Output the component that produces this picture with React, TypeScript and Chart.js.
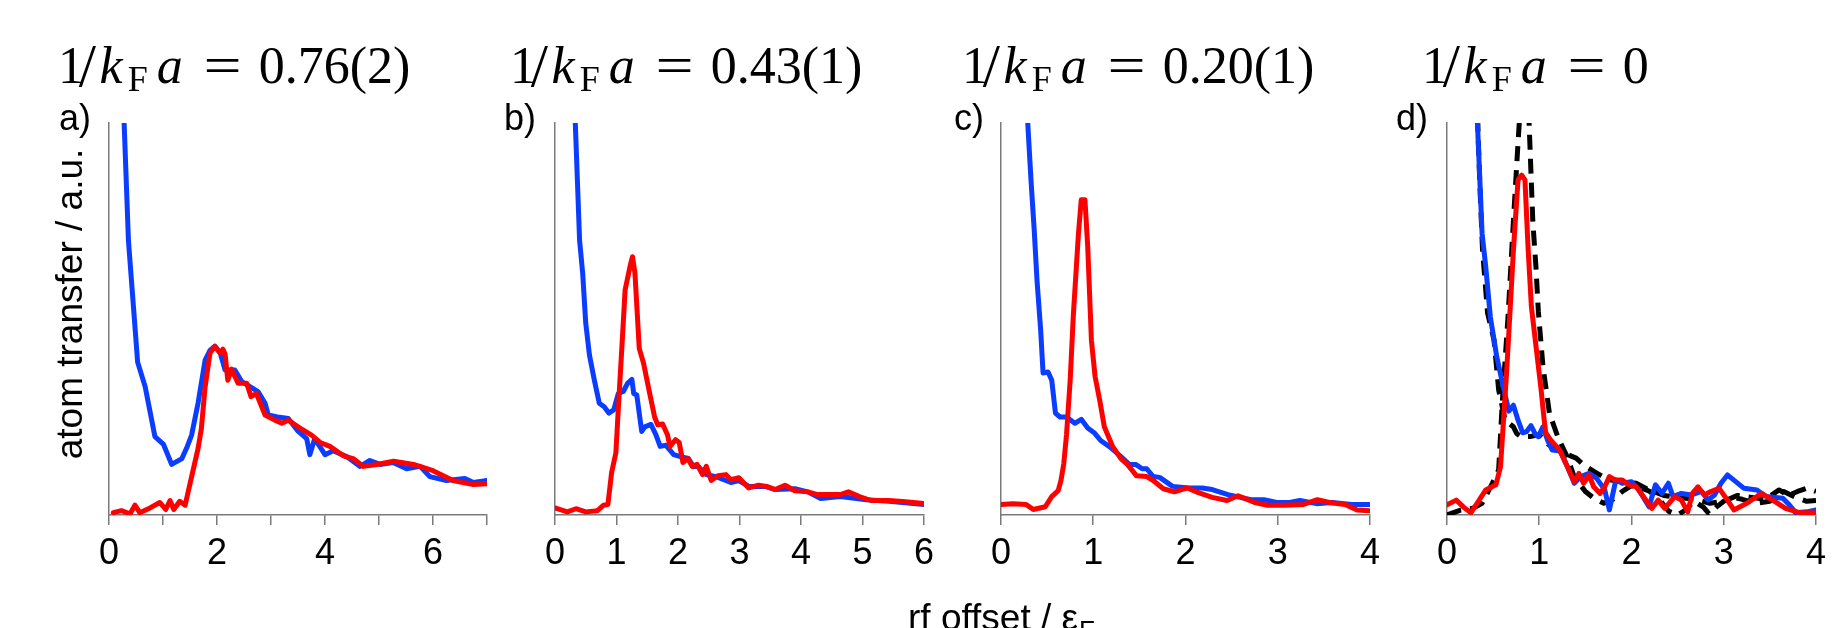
import React, { useEffect, useRef } from 'react';
import { Chart, registerables } from 'chart.js';

Chart.register(...registerables);

type Pt = [number, number];

// ---------------- data (x = rf offset / eF, y = atom transfer, arbitrary units) ----------------
const blueA: Pt[] = [[0.22,1.25],[0.28,1.0],[0.36,0.70],[0.47,0.50],[0.53,0.39],[0.67,0.327],[0.85,0.2],[1.01,0.18],[1.16,0.129],[1.35,0.144],[1.45,0.175],[1.53,0.204],[1.65,0.286],[1.78,0.395],[1.87,0.42],[1.96,0.431],[2.06,0.413],[2.15,0.37],[2.33,0.37],[2.46,0.34],[2.76,0.315],[2.89,0.285],[2.95,0.255],[3.12,0.25],[3.32,0.246],[3.5,0.214],[3.66,0.195],[3.72,0.154],[3.81,0.195],[4.0,0.154],[4.15,0.164],[4.4,0.149],[4.65,0.124],[4.83,0.139],[5.02,0.129],[5.26,0.134],[5.51,0.118],[5.76,0.124],[5.94,0.098],[6.25,0.088],[6.59,0.093],[6.75,0.083],[7.0,0.088]];
const redA: Pt[] = [[0.08,0.006],[0.23,0.011],[0.39,0.003],[0.48,0.025],[0.57,0.006],[0.76,0.018],[0.94,0.032],[1.05,0.014],[1.13,0.037],[1.2,0.014],[1.31,0.035],[1.41,0.025],[1.53,0.098],[1.65,0.17],[1.71,0.22],[1.78,0.327],[1.87,0.413],[1.96,0.43],[2.06,0.413],[2.11,0.423],[2.15,0.41],[2.2,0.344],[2.27,0.372],[2.39,0.336],[2.55,0.336],[2.63,0.302],[2.73,0.31],[2.89,0.255],[3.07,0.242],[3.2,0.234],[3.32,0.242],[3.5,0.225],[3.75,0.204],[3.91,0.185],[4.09,0.175],[4.34,0.151],[4.52,0.144],[4.71,0.124],[4.96,0.129],[5.27,0.137],[5.64,0.129],[6.0,0.113],[6.37,0.088],[6.75,0.078],[7.0,0.08]];

const blueB: Pt[] = [[0.28,1.2],[0.33,1.0],[0.40,0.70],[0.45,0.617],[0.50,0.489],[0.56,0.408],[0.64,0.344],[0.72,0.285],[0.80,0.276],[0.875,0.26],[0.955,0.268],[1.03,0.31],[1.11,0.315],[1.18,0.336],[1.25,0.346],[1.28,0.31],[1.33,0.306],[1.41,0.213],[1.46,0.225],[1.56,0.231],[1.64,0.205],[1.71,0.175],[1.80,0.178],[1.93,0.154],[2.04,0.149],[2.17,0.144],[2.25,0.124],[2.33,0.124],[2.46,0.103],[2.62,0.098],[2.86,0.083],[2.99,0.088],[3.15,0.073],[3.42,0.073],[3.58,0.065],[3.9,0.067],[4.11,0.059],[4.32,0.042],[4.64,0.047],[5.06,0.039],[5.43,0.035],[6.0,0.027]];
const redB: Pt[] = [[0,0.018],[0.2,0.008],[0.34,0.016],[0.5,0.008],[0.69,0.011],[0.79,0.025],[0.86,0.027],[0.92,0.108],[0.99,0.159],[1.04,0.30],[1.09,0.435],[1.14,0.574],[1.22,0.634],[1.26,0.659],[1.30,0.617],[1.37,0.425],[1.44,0.387],[1.54,0.31],[1.62,0.25],[1.67,0.23],[1.75,0.232],[1.83,0.204],[1.87,0.175],[1.96,0.192],[2.02,0.185],[2.08,0.134],[2.16,0.144],[2.23,0.124],[2.31,0.129],[2.40,0.103],[2.46,0.124],[2.54,0.088],[2.65,0.10],[2.78,0.103],[2.86,0.09],[2.99,0.095],[3.15,0.069],[3.31,0.076],[3.44,0.073],[3.58,0.065],[3.74,0.076],[3.9,0.062],[4.11,0.059],[4.27,0.052],[4.42,0.052],[4.64,0.052],[4.77,0.059],[4.95,0.047],[5.14,0.037],[5.43,0.037],[5.70,0.034],[6.0,0.029]];

const blueC: Pt[] = [[0.25,1.17],[0.29,1.0],[0.325,0.855],[0.36,0.727],[0.39,0.6],[0.43,0.472],[0.456,0.362],[0.51,0.365],[0.55,0.344],[0.59,0.26],[0.64,0.25],[0.71,0.25],[0.80,0.234],[0.87,0.244],[0.94,0.222],[1.01,0.21],[1.08,0.19],[1.19,0.172],[1.30,0.149],[1.39,0.129],[1.46,0.129],[1.53,0.118],[1.58,0.118],[1.65,0.098],[1.72,0.096],[1.86,0.073],[2.04,0.069],[2.18,0.069],[2.29,0.065],[2.46,0.052],[2.71,0.039],[2.85,0.039],[2.99,0.032],[3.13,0.032],[3.24,0.037],[3.42,0.029],[3.59,0.032],[3.80,0.027],[4.0,0.027]];
const redC: Pt[] = [[0,0.027],[0.13,0.029],[0.27,0.027],[0.35,0.014],[0.48,0.021],[0.55,0.047],[0.62,0.062],[0.65,0.088],[0.68,0.13],[0.71,0.204],[0.75,0.344],[0.785,0.514],[0.84,0.719],[0.87,0.804],[0.91,0.804],[0.94,0.685],[0.98,0.446],[1.02,0.353],[1.07,0.293],[1.12,0.225],[1.21,0.175],[1.30,0.144],[1.37,0.129],[1.47,0.10],[1.58,0.098],[1.65,0.088],[1.76,0.067],[1.88,0.059],[2.02,0.069],[2.14,0.057],[2.29,0.045],[2.45,0.037],[2.57,0.049],[2.75,0.032],[2.89,0.025],[3.06,0.025],[3.28,0.027],[3.43,0.039],[3.56,0.032],[3.73,0.027],[3.86,0.013],[4.0,0.011]];

const blueD: Pt[] = [[0.30,1.2],[0.33,1.0],[0.35,0.888],[0.38,0.719],[0.42,0.633],[0.47,0.505],[0.54,0.403],[0.61,0.327],[0.67,0.265],[0.72,0.28],[0.77,0.242],[0.82,0.21],[0.86,0.212],[0.91,0.228],[0.96,0.205],[0.99,0.2],[1.04,0.225],[1.09,0.191],[1.14,0.166],[1.23,0.163],[1.305,0.123],[1.38,0.081],[1.45,0.098],[1.54,0.106],[1.62,0.094],[1.71,0.064],[1.76,0.013],[1.83,0.089],[1.90,0.081],[2.0,0.085],[2.08,0.064],[2.19,0.021],[2.26,0.077],[2.33,0.055],[2.40,0.081],[2.45,0.047],[2.54,0.055],[2.65,0.051],[2.76,0.06],[2.83,0.038],[2.90,0.051],[2.97,0.081],[3.04,0.102],[3.11,0.089],[3.22,0.068],[3.36,0.064],[3.46,0.047],[3.64,0.043],[3.71,0.026],[3.78,0.006],[3.9,0.008],[4.0,0.013]];
const redD: Pt[] = [[0,0.026],[0.10,0.038],[0.18,0.02],[0.26,0.006],[0.34,0.035],[0.42,0.064],[0.53,0.077],[0.58,0.123],[0.615,0.25],[0.645,0.36],[0.67,0.464],[0.72,0.676],[0.77,0.855],[0.81,0.867],[0.845,0.855],[0.88,0.676],[0.915,0.531],[0.965,0.43],[1.02,0.32],[1.05,0.25],[1.07,0.21],[1.125,0.191],[1.22,0.166],[1.305,0.123],[1.38,0.085],[1.43,0.106],[1.48,0.081],[1.54,0.102],[1.59,0.072],[1.66,0.055],[1.71,0.072],[1.76,0.098],[1.83,0.089],[1.90,0.089],[1.97,0.077],[2.05,0.072],[2.13,0.047],[2.22,0.017],[2.29,0.038],[2.36,0.017],[2.47,0.047],[2.54,0.038],[2.61,0.008],[2.66,0.055],[2.72,0.072],[2.79,0.051],[2.86,0.06],[2.95,0.068],[3.04,0.038],[3.11,0.013],[3.25,0.03],[3.41,0.055],[3.53,0.038],[3.67,0.017],[3.82,0.006],[4.0,0.006]];
const theoryUpperD: Pt[] = [[0.31,1.2],[0.34,0.95],[0.36,0.82],[0.385,0.676],[0.44,0.515],[0.51,0.446],[0.56,0.319],[0.63,0.242],[0.72,0.225],[0.755,0.208],[0.8,0.2],[0.9,0.2],[1.0,0.205],[1.1,0.18],[1.2,0.165],[1.3,0.155],[1.4,0.145],[1.48,0.128],[1.6,0.11],[1.75,0.09],[1.9,0.085],[2.05,0.081],[2.19,0.064],[2.35,0.05],[2.5,0.045],[2.7,0.04],[2.85,0.03],[3.0,0.035],[3.15,0.05],[3.3,0.045],[3.45,0.04],[3.6,0.064],[3.7,0.05],[3.8,0.06],[3.9,0.068],[4.0,0.06]];
const theoryLowerD: Pt[] = [[0,0.0],[0.14,0.012],[0.28,0.017],[0.38,0.03],[0.49,0.08],[0.56,0.115],[0.6,0.29],[0.66,0.5],[0.72,0.75],[0.77,0.95],[0.81,1.1],[0.85,1.15],[0.89,1.0],[0.93,0.75],[0.965,0.63],[0.99,0.52],[1.04,0.38],[1.11,0.26],[1.2,0.2],[1.3,0.15],[1.38,0.097],[1.5,0.06],[1.59,0.043],[1.7,0.03],[1.8,0.04],[1.9,0.06],[2.0,0.075],[2.1,0.07],[2.2,0.06],[2.3,0.04],[2.4,0.01],[2.5,0.0],[2.58,0.012],[2.68,0.035],[2.78,0.02],[2.84,0.003],[2.92,0.02],[3.0,0.035],[3.1,0.045],[3.2,0.04],[3.35,0.03],[3.5,0.035],[3.65,0.06],[3.78,0.045],[3.9,0.035],[4.0,0.037]];

const titleValues = ['0.76(2)', '0.43(1)', '0.20(1)', '0'];
const panelLetters = ['a)', 'b)', 'c)', 'd)'];
const xMaxes = [7, 6, 4, 4];
const labelEvery = [2, 1, 1, 1];
const yAxisTitle = 'atom transfer / a.u.';
const xAxisTitle = 'rf offset / ε';
const xAxisTitleSub = 'F';

// ---------------- styling / layout ----------------
const CW = 495;
const CH = 628;
const STEP = 446;
const PLOT_LEFT = 109;
const PLOT_TOP = 123;
const PLOT_BOTTOM = 515;
const PLOT_RIGHT = [487, 486, 486, 486];
const TITLE_LEFT = [58, 64, 70, 84];
const LETTER_LEFT = [59, 58, 62, 58];
const BLUE = '#0a3dff';
const RED = '#ff0000';
const AXIS = '#7a7a7a';
const SANS = '"Liberation Sans", Arial, Helvetica, sans-serif';
const SERIF = '"Liberation Serif", "Times New Roman", serif';

function drawMathTitle(ctx: CanvasRenderingContext2D, x: number, baseline: number, value: string) {
  const S = 52;
  ctx.save();
  ctx.fillStyle = '#000';
  ctx.textAlign = 'left';
  ctx.textBaseline = 'alphabetic';
  const roman = `${S}px ${SERIF}`;
  const ital = `italic ${S}px ${SERIF}`;
  const sub = `${Math.round(S * 0.7)}px ${SERIF}`;
  ctx.font = roman; ctx.fillText('1', x, baseline);
  ctx.font = `${Math.round(S * 1.2)}px ${SERIF}`;
  ctx.fillText('/', x + 0.40 * S, baseline + 0.06 * S);
  ctx.font = ital; ctx.fillText('k', x + 0.80 * S, baseline);
  ctx.font = sub; ctx.fillText('F', x + 1.34 * S, baseline + 0.16 * S);
  ctx.font = ital; ctx.fillText('a', x + 1.90 * S, baseline);
  ctx.font = roman;
  ctx.save();
  ctx.translate(x + 2.80 * S, baseline);
  ctx.scale(1.3, 1);
  ctx.fillText('=', 0, 0);
  ctx.restore();
  ctx.fillText(value, x + 3.86 * S, baseline);
  ctx.restore();
}

function makeTextPlugin(idx: number) {
  return {
    id: 'panelText' + idx,
    afterDraw(chart: Chart) {
      const ctx = chart.ctx;
      drawMathTitle(ctx, TITLE_LEFT[idx], 83, titleValues[idx]);
      ctx.save();
      ctx.fillStyle = '#000';
      ctx.textAlign = 'left';
      ctx.textBaseline = 'alphabetic';
      ctx.font = `36px ${SANS}`;
      ctx.fillText(panelLetters[idx], LETTER_LEFT[idx], 130);
      if (idx === 0) {
        ctx.save();
        ctx.translate(82, 304);
        ctx.rotate(-Math.PI / 2);
        ctx.textAlign = 'center';
        ctx.font = `37px ${SANS}`;
        ctx.fillText(yAxisTitle, 0, 0);
        ctx.restore();
      }
      if (idx === 2) {
        ctx.font = `37px ${SANS}`;
        ctx.fillText(xAxisTitle, 16, 630);
        const w = ctx.measureText(xAxisTitle).width;
        ctx.font = `26px ${SANS}`;
        ctx.fillText(xAxisTitleSub, 16 + w + 1, 639);
      }
      ctx.restore();
    },
  };
}

type Series = { pts: Pt[]; color: string; dash?: number[]; order: number };

const panels: Series[][] = [
  [{ pts: redA, color: RED, order: 0 }, { pts: blueA, color: BLUE, order: 1 }],
  [{ pts: redB, color: RED, order: 0 }, { pts: blueB, color: BLUE, order: 1 }],
  [{ pts: redC, color: RED, order: 0 }, { pts: blueC, color: BLUE, order: 1 }],
  [
    { pts: redD, color: RED, order: 0 },
    { pts: blueD, color: BLUE, order: 1 },
    { pts: theoryUpperD, color: '#000', dash: [15, 9], order: 2 },
    { pts: theoryLowerD, color: '#000', dash: [15, 9], order: 3 },
  ],
];

function Panel({ idx }: { idx: number }) {
  const ref = useRef<HTMLCanvasElement | null>(null);
  useEffect(() => {
    if (!ref.current) return;
    const chart = new Chart(ref.current, {
      type: 'line',
      data: {
        datasets: panels[idx].map((s) => ({
          data: s.pts.map(([x, y]) => ({ x, y })),
          borderColor: s.color,
          backgroundColor: s.color,
          borderWidth: 5,
          borderDash: s.dash || [],
          borderJoinStyle: 'round' as const,
          borderCapStyle: (s.dash ? 'butt' : 'round') as any,
          pointRadius: 0,
          tension: 0,
          fill: false,
          order: s.order,
        })),
      },
      options: {
        animation: false,
        responsive: false,
        devicePixelRatio: 1,
        events: [],
        layout: { padding: { left: 0, top: PLOT_TOP, right: CW - PLOT_RIGHT[idx], bottom: 0 } },
        plugins: { legend: { display: false }, tooltip: { enabled: false }, title: { display: false } },
        scales: {
          x: {
            type: 'linear',
            min: 0,
            max: xMaxes[idx],
            afterFit: (s: any) => { s.height = CH - PLOT_BOTTOM; },
            grid: { display: true, drawOnChartArea: false, drawTicks: true, tickLength: 10, color: AXIS, lineWidth: 1.5 },
            border: { display: true, color: AXIS, width: 1.5 },
            ticks: {
              stepSize: 1,
              autoSkip: false,
              maxRotation: 0,
              padding: 7,
              color: '#000',
              font: { family: SANS, size: 36 },
              callback: (v: any) => (Number(v) % labelEvery[idx] === 0 ? String(v) : ''),
            },
          },
          y: {
            type: 'linear',
            min: 0,
            max: 1,
            afterFit: (s: any) => { s.width = PLOT_LEFT; },
            grid: { display: false },
            border: { display: true, color: AXIS, width: 1.5 },
            ticks: { display: false },
          },
        },
      },
      plugins: [makeTextPlugin(idx)],
    } as any);
    return () => chart.destroy();
  }, [idx]);
  return (
    <canvas
      ref={ref}
      width={CW}
      height={CH}
      style={{ position: 'absolute', left: idx * STEP, top: 0, width: CW, height: CH }}
    />
  );
}

export default function App() {
  return (
    <div style={{ position: 'absolute', left: 0, top: 0, width: 1833, height: 628, overflow: 'hidden', background: '#fff' }}>
      {[0, 1, 2, 3].map((i) => (
        <Panel key={i} idx={i} />
      ))}
    </div>
  );
}
